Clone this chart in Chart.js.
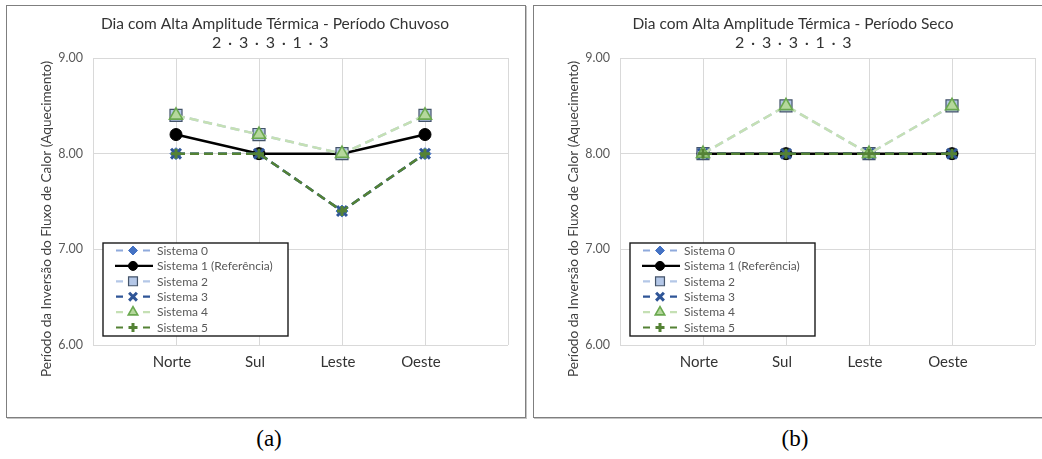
<!DOCTYPE html>
<html>
<head>
<meta charset="utf-8">
<title>Dia com Alta Amplitude Térmica</title>
<script src="https://cdn.jsdelivr.net/npm/chart.js@4.4.1/dist/chart.umd.min.js"></script>
<style>
  html, body { margin: 0; padding: 0; background: #fff; }
  body { width: 1042px; height: 459px; position: relative; overflow: hidden; }
  .panel {
    position: absolute; top: 5px; width: 520px; height: 413px;
    box-sizing: border-box; border: 1px solid #7f7f7f;
    box-shadow: 1px 1px 0 #c4c4c4; background: #fff;
  }
  .panel canvas { position: absolute; left: 0; top: 0; }
  #panelA { left: 6px; }
  #panelB { left: 533px; }
  .cap {
    position: absolute; top: 426px; transform: translateX(-50%);
    font-family: "Liberation Serif", "DejaVu Serif", serif; font-size: 23px; color: #000;
  }
</style>
</head>
<body>
<div class="panel" id="panelA"><canvas id="chartA" width="518" height="411"></canvas></div>
<div class="panel" id="panelB"><canvas id="chartB" width="518" height="411"></canvas></div>
<div class="cap" style="left:269px">(a)</div>
<div class="cap" style="left:795px">(b)</div>

<script>
// Orientações avaliadas e marcas do eixo vertical
const categories = ['Norte', 'Sul', 'Leste', 'Oeste'];
const seriesNames = ['Sistema 0', 'Sistema 1 (Referência)', 'Sistema 2', 'Sistema 3', 'Sistema 4', 'Sistema 5'];
const yTicks = [6, 7, 8, 9];
const yAxisTitle = 'Período da Inversão do Fluxo de Calor (Aquecimento)';

// Período chuvoso (horas)
const chuvoso0 = [8.0, 8.0, 7.4, 8.0];
const chuvoso1 = [8.2, 8.0, 8.0, 8.2];
const chuvoso2 = [8.4, 8.2, 8.0, 8.4];
const chuvoso3 = [8.0, 8.0, 7.4, 8.0];
const chuvoso4 = [8.4, 8.2, 8.0, 8.4];
const chuvoso5 = [8.0, 8.0, 7.4, 8.0];

// Período seco (horas)
const seco0 = [8.0, 8.0, 8.0, 8.0];
const seco1 = [8.0, 8.0, 8.0, 8.0];
const seco2 = [8.0, 8.5, 8.0, 8.5];
const seco3 = [8.0, 8.0, 8.0, 8.0];
const seco4 = [8.0, 8.5, 8.0, 8.5];
const seco5 = [8.0, 8.0, 8.0, 8.0];

// Aparência de cada sistema (linha e marcador)
const seriesStyles = [
  { line: '#8FAADC', dash: [9, 5], point: 'rectRot',  fill: '#4472C4', stroke: '#4472C4', r: 6,   bw: 1,   lr: 4.5 },
  { line: '#000000', dash: [],     point: 'circle',   fill: '#000000', stroke: '#000000', r: 6,   bw: 1,   lr: 4.5 },
  { line: '#B4C7E7', dash: [9, 5], point: 'rect',     fill: '#B4C7E7', stroke: '#44546A', r: 8.5, bw: 1.2, lr: 6.3 },
  { line: '#2F5597', dash: [9, 5], point: 'crossRot', fill: '#2F5597', stroke: '#2F5597', r: 7,   bw: 3,   lr: 5.5 },
  { line: '#C5E0B4', dash: [9, 5], point: 'triangle', fill: '#B5D89C', stroke: '#6AA84F', r: 7.5, bw: 1.6, lr: 5.5 },
  { line: '#548235', dash: [9, 5], point: 'cross',    fill: '#548235', stroke: '#548235', r: 5,   bw: 3,   lr: 4.5 }
];

const FONT = 'Lato, "Open Sans", sans-serif';
Chart.defaults.font.family = FONT;

function fallbackPoint(ctx, style, r, x, y) {
  ctx.beginPath();
  ctx.arc(x, y, r, 0, Math.PI * 2);
  ctx.fill();
  ctx.stroke();
}

// Títulos, título do eixo vertical e legenda dentro da área do gráfico
const panelDecor = {
  id: 'panelDecor',
  afterDraw(chart, args, opts) {
    const ctx = chart.ctx;
    const ca = chart.chartArea;
    ctx.save();

    ctx.textAlign = 'center';
    ctx.textBaseline = 'middle';
    ctx.fillStyle = '#333333';
    ctx.font = '15.5px ' + FONT;
    ctx.fillText(opts.title, opts.titleX, opts.titleY);
    if ('letterSpacing' in ctx) ctx.letterSpacing = '1.3px';
    ctx.font = '16px ' + FONT;
    ctx.fillText(opts.subtitle, opts.subX, opts.subY);
    if ('letterSpacing' in ctx) ctx.letterSpacing = '0px';

    ctx.save();
    ctx.translate(opts.axisX, opts.axisY);
    ctx.rotate(-Math.PI / 2);
    ctx.font = '13.6px ' + FONT;
    ctx.fillStyle = '#404040';
    ctx.fillText(yAxisTitle, 0, 0);
    ctx.restore();

    // legenda
    const bx = ca.left + 10, bw = 185, bh = 93;
    const by = ca.bottom - 9 - bh;
    ctx.fillStyle = '#ffffff';
    ctx.fillRect(bx, by, bw, bh);
    ctx.lineWidth = 1.4;
    ctx.strokeStyle = '#1a1a1a';
    ctx.strokeRect(bx, by, bw, bh);

    ctx.textAlign = 'left';
    ctx.font = '12px ' + FONT;
    chart.data.datasets.forEach((ds, i) => {
      const st = seriesStyles[i];
      const cy = by + 7.5 + i * 15.4;
      ctx.setLineDash([]);
      ctx.lineCap = 'butt';
      ctx.strokeStyle = st.line;
      ctx.lineWidth = 2.2;
      ctx.beginPath();
      if (st.dash.length) {
        ctx.moveTo(bx + 13, cy); ctx.lineTo(bx + 20, cy);
        ctx.moveTo(bx + 40, cy); ctx.lineTo(bx + 47, cy);
      } else {
        ctx.moveTo(bx + 12, cy); ctx.lineTo(bx + 50, cy);
      }
      ctx.stroke();

      ctx.fillStyle = st.fill;
      ctx.strokeStyle = st.stroke;
      ctx.lineWidth = st.bw;
      if (Chart.helpers && Chart.helpers.drawPoint) {
        Chart.helpers.drawPoint(ctx, { pointStyle: st.point, radius: st.lr, rotation: 0, borderWidth: st.bw }, bx + 30, cy);
      } else {
        fallbackPoint(ctx, st.point, st.lr, bx + 30, cy);
      }

      ctx.fillStyle = '#595959';
      ctx.fillText(seriesNames[i], bx + 54, cy + 0.5);
    });
    ctx.restore();
  }
};

function buildDatasets(series) {
  return series.map((values, i) => {
    const st = seriesStyles[i];
    return {
      label: seriesNames[i],
      data: values.map((v, k) => ({ x: k + 1, y: v })),
      borderColor: st.line,
      borderWidth: 2.5,
      borderDash: st.dash,
      pointStyle: st.point,
      pointRadius: st.r,
      pointBackgroundColor: st.fill,
      pointBorderColor: st.stroke,
      pointBorderWidth: st.bw,
      tension: 0,
      fill: false,
      // séries posteriores ficam por cima
      order: series.length - i
    };
  });
}

function makeChart(id, series, decor) {
  return new Chart(document.getElementById(id), {
    type: 'line',
    data: { datasets: buildDatasets(series) },
    plugins: [panelDecor],
    options: {
      responsive: false,
      animation: false,
      devicePixelRatio: 1,
      events: [],
      layout: { padding: { left: 0, right: 17, top: 52, bottom: 0 } },
      plugins: {
        legend: { display: false },
        tooltip: { enabled: false },
        title: { display: false },
        panelDecor: decor
      },
      scales: {
        x: {
          type: 'linear',
          min: 0,
          max: categories.length + 1,
          afterFit(scale) { scale.height = 72; },
          afterBuildTicks(scale) {
            scale.ticks = [];
            for (let v = 0; v <= categories.length + 1; v++) scale.ticks.push({ value: v });
          },
          grid: { color: '#d9d9d9', lineWidth: 1, drawTicks: false },
          border: { display: false },
          ticks: {
            padding: 8,
            labelOffset: -4,
            color: '#333333',
            font: { size: 15 },
            maxRotation: 0,
            autoSkip: false,
            callback: (v) => categories[v - 1] || ''
          }
        },
        y: {
          min: yTicks[0],
          max: yTicks[yTicks.length - 1],
          afterFit(scale) { scale.width = 86; },
          afterBuildTicks(scale) { scale.ticks = yTicks.map(v => ({ value: v })); },
          grid: { color: '#d9d9d9', lineWidth: 1, drawTicks: false },
          border: { display: false },
          ticks: {
            padding: 10,
            color: '#595959',
            font: { size: 12.5 },
            callback: (v) => Number(v).toFixed(2)
          }
        }
      }
    }
  });
}

makeChart('chartA', [chuvoso0, chuvoso1, chuvoso2, chuvoso3, chuvoso4, chuvoso5], {
  title: 'Dia com Alta Amplitude Térmica - Período Chuvoso',
  subtitle: '2 · 3 · 3 · 1 · 3',
  titleX: 268, titleY: 18, subX: 264, subY: 37,
  axisX: 40, axisY: 213
});

makeChart('chartB', [seco0, seco1, seco2, seco3, seco4, seco5], {
  title: 'Dia com Alta Amplitude Térmica - Período Seco',
  subtitle: '2 · 3 · 3 · 1 · 3',
  titleX: 259, titleY: 18, subX: 260, subY: 37,
  axisX: 40, axisY: 213
});
</script>
</body>
</html>
